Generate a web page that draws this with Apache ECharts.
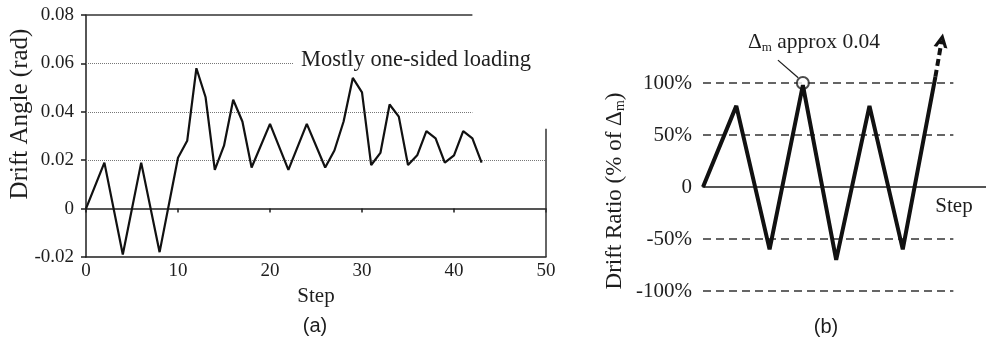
<!DOCTYPE html>
<html>
<head>
<meta charset="utf-8">
<script src="https://cdn.jsdelivr.net/npm/echarts@6/dist/echarts.min.js"></script>
<style>
  html, body { margin: 0; padding: 0; background: #fff; }
  #chart { width: 986px; height: 339px; }
</style>
</head>
<body>
<div id="chart"></div>
<script>
// panel (a): measured drift angle per loading step
const stepsA = [0, 2, 4, 6, 8, 10, 11, 12, 13, 14, 15, 16, 17, 18, 20, 22, 24, 26, 27, 28,
  29, 30, 31, 32, 33, 34, 35, 36, 37, 38, 39, 40, 41, 42, 43];
const driftAngle = [0, 0.019, -0.019, 0.019, -0.018, 0.021, 0.028, 0.058, 0.046, 0.016,
  0.026, 0.045, 0.036, 0.017, 0.035, 0.016, 0.035, 0.017, 0.024, 0.036,
  0.054, 0.048, 0.018, 0.023, 0.043, 0.038, 0.018, 0.022, 0.032, 0.029,
  0.019, 0.022, 0.032, 0.029, 0.019];

// panel (b): schematic loading history (% of delta m)
const stepsB = [0, 1, 2, 3, 4, 5, 6, 6.98];
const driftRatio = [0, 78, -60, 98, -70, 78, -60, 106];
const arrowFrom = [6.98, 106];
const arrowTo = [7.17, 141];
const peakMark = [3, 100];
const leaderFrom = [2.25, 122];
const leaderTo = [2.86, 105];

const serif = "'Liberation Serif', 'DejaVu Serif', serif";
const sans = "'Liberation Sans', Arial, sans-serif";
const ink = '#1e1e1e';

const chart = echarts.init(document.getElementById('chart'));

const dotted = { type: 'dotted', color: '#777', width: 1 };
const solid = { type: 'solid', color: '#333', width: 1.5 };
const dashed = { type: [8, 5], color: '#333', width: 1.5 };

function seg(x1, y1, x2, y2, style) {
  return [{ coord: [x1, y1], lineStyle: style }, { coord: [x2, y2] }];
}

const option = {
  animation: false,
  grid: [
    { left: 86, top: 15, width: 460, height: 242 },
    { left: 703, top: 31, width: 283, height: 260 }
  ],
  xAxis: [
    {
      gridIndex: 0, type: 'value', min: 0, max: 50, interval: 10, position: 'bottom',
      axisLine: { onZero: false, lineStyle: { color: ink, width: 1.5 } },
      axisTick: { show: false },
      axisLabel: { margin: 5, color: ink, fontSize: 19, fontFamily: serif },
      splitLine: { show: false },
      name: 'Step', nameLocation: 'middle', nameGap: 27,
      nameTextStyle: { color: ink, fontSize: 21, fontFamily: serif }
    },
    {
      gridIndex: 0, type: 'value', min: 0, max: 50, interval: 10, position: 'bottom',
      axisLine: { onZero: true, lineStyle: { color: ink, width: 1.5 } },
      axisTick: { show: true, length: 4, lineStyle: { color: ink, width: 1.5 } },
      axisLabel: { show: false },
      splitLine: { show: false }
    },
    {
      gridIndex: 1, type: 'value', min: 0, max: 8.5, position: 'bottom',
      axisLine: { onZero: true, lineStyle: { color: ink, width: 1.5 } },
      axisTick: { show: false },
      axisLabel: { show: false },
      splitLine: { show: false }
    }
  ],
  yAxis: [
    {
      gridIndex: 0, type: 'value', min: -0.02, max: 0.08, interval: 0.02,
      axisLine: { show: true, lineStyle: { color: ink, width: 1.5 } },
      axisTick: { show: true, length: 5, lineStyle: { color: ink, width: 1.5 } },
      axisLabel: {
        margin: 12, color: ink, fontSize: 19, fontFamily: serif,
        formatter: v => Math.abs(v) < 1e-9 ? '0' : v.toFixed(2)
      },
      splitLine: { show: false }
    },
    {
      gridIndex: 1, type: 'value', min: -100, max: 150, interval: 50,
      axisLine: { show: false },
      axisTick: { show: false },
      axisLabel: {
        margin: 11, color: ink, fontSize: 21, fontFamily: serif,
        formatter: v => v > 100 ? '' : (v === 0 ? '0' : v + '%')
      },
      splitLine: { show: false }
    }
  ],
  series: [
    {
      type: 'line', xAxisIndex: 0, yAxisIndex: 0,
      data: stepsA.map((s, i) => [s, driftAngle[i]]),
      symbol: 'none',
      lineStyle: { color: '#111', width: 2.2 },
      z: 5,
      markLine: {
        silent: true, symbol: 'none', label: { show: false }, z: 1,
        data: [
          seg(0, 0.02, 50, 0.02, dotted),
          seg(0, 0.04, 42, 0.04, dotted),
          seg(0, 0.06, 22.5, 0.06, dotted),
          seg(0, 0.08, 42, 0.08, solid),
          seg(50, -0.02, 50, 0.033, solid)
        ]
      }
    },
    {
      type: 'line', xAxisIndex: 2, yAxisIndex: 1,
      data: stepsB.map((s, i) => [s, driftRatio[i]]),
      symbol: 'none',
      lineStyle: { color: '#111', width: 4 },
      z: 5,
      markLine: {
        silent: true, label: { show: false },
        symbol: ['none', 'path://M6,0 L12,12 L9,12 L6,6 L3,12 L0,12 Z'],
        symbolSize: [14, 14],
        data: [[
          { coord: arrowFrom, lineStyle: { type: [7, 4], color: '#111', width: 4 } },
          { coord: arrowTo }
        ]]
      }
    },
    {
      type: 'line', xAxisIndex: 2, yAxisIndex: 1, data: [], symbol: 'none',
      markLine: {
        silent: true, symbol: 'none', label: { show: false }, z: 1,
        data: [
          seg(0, 100, 7.52, 100, dashed),
          seg(0, 50, 7.52, 50, dashed),
          seg(0, -50, 7.52, -50, dashed),
          seg(0, -100, 7.52, -100, dashed)
        ]
      }
    },
    {
      type: 'scatter', xAxisIndex: 2, yAxisIndex: 1,
      data: [peakMark],
      symbol: 'emptyCircle', symbolSize: 12,
      itemStyle: { color: ink, borderColor: ink, borderWidth: 1.5 },
      z: 4,
      markLine: {
        silent: true, symbol: 'none', label: { show: false },
        data: [seg(leaderFrom[0], leaderFrom[1], leaderTo[0], leaderTo[1],
          { type: 'solid', color: ink, width: 1.3 })]
      }
    }
  ],
  graphic: [
    {
      type: 'text', x: 20, y: 114, rotation: Math.PI / 2,
      style: { text: 'Drift Angle (rad)', fontSize: 25, fontFamily: serif, fill: ink,
        align: 'center', verticalAlign: 'middle' }
    },
    {
      type: 'text', x: 301, y: 60,
      style: { text: 'Mostly one-sided loading', fontSize: 22.5, fontFamily: serif, fill: ink,
        align: 'left', verticalAlign: 'middle' }
    },
    {
      type: 'text', x: 315, y: 326,
      style: { text: '(a)', fontSize: 20, fontFamily: sans, fill: ink,
        align: 'center', verticalAlign: 'middle' }
    },
    {
      type: 'text', x: 826, y: 327,
      style: { text: '(b)', fontSize: 20, fontFamily: sans, fill: ink,
        align: 'center', verticalAlign: 'middle' }
    },
    {
      type: 'text', x: 954, y: 206,
      style: { text: 'Step', fontSize: 21, fontFamily: serif, fill: ink,
        align: 'center', verticalAlign: 'middle' }
    },
    {
      type: 'text', x: 615, y: 191, rotation: Math.PI / 2,
      style: {
        text: '{t|Drift Ratio (% of Δ}{s|m}{t|)}', fill: ink,
        align: 'center', verticalAlign: 'middle',
        rich: {
          t: { fontSize: 23, fontFamily: serif, fill: ink },
          s: { fontSize: 14, fontFamily: serif, fill: ink, padding: [11, 0, 0, 0] }
        }
      }
    },
    {
      type: 'text', x: 748, y: 42,
      style: {
        text: '{t|Δ}{s|m}{t| approx 0.04}', fill: ink,
        align: 'left', verticalAlign: 'middle',
        rich: {
          t: { fontSize: 21.5, fontFamily: serif, fill: ink },
          s: { fontSize: 13, fontFamily: serif, fill: ink, padding: [11, 0, 0, 0] }
        }
      }
    }
  ]
};

chart.setOption(option);
</script>
</body>
</html>
